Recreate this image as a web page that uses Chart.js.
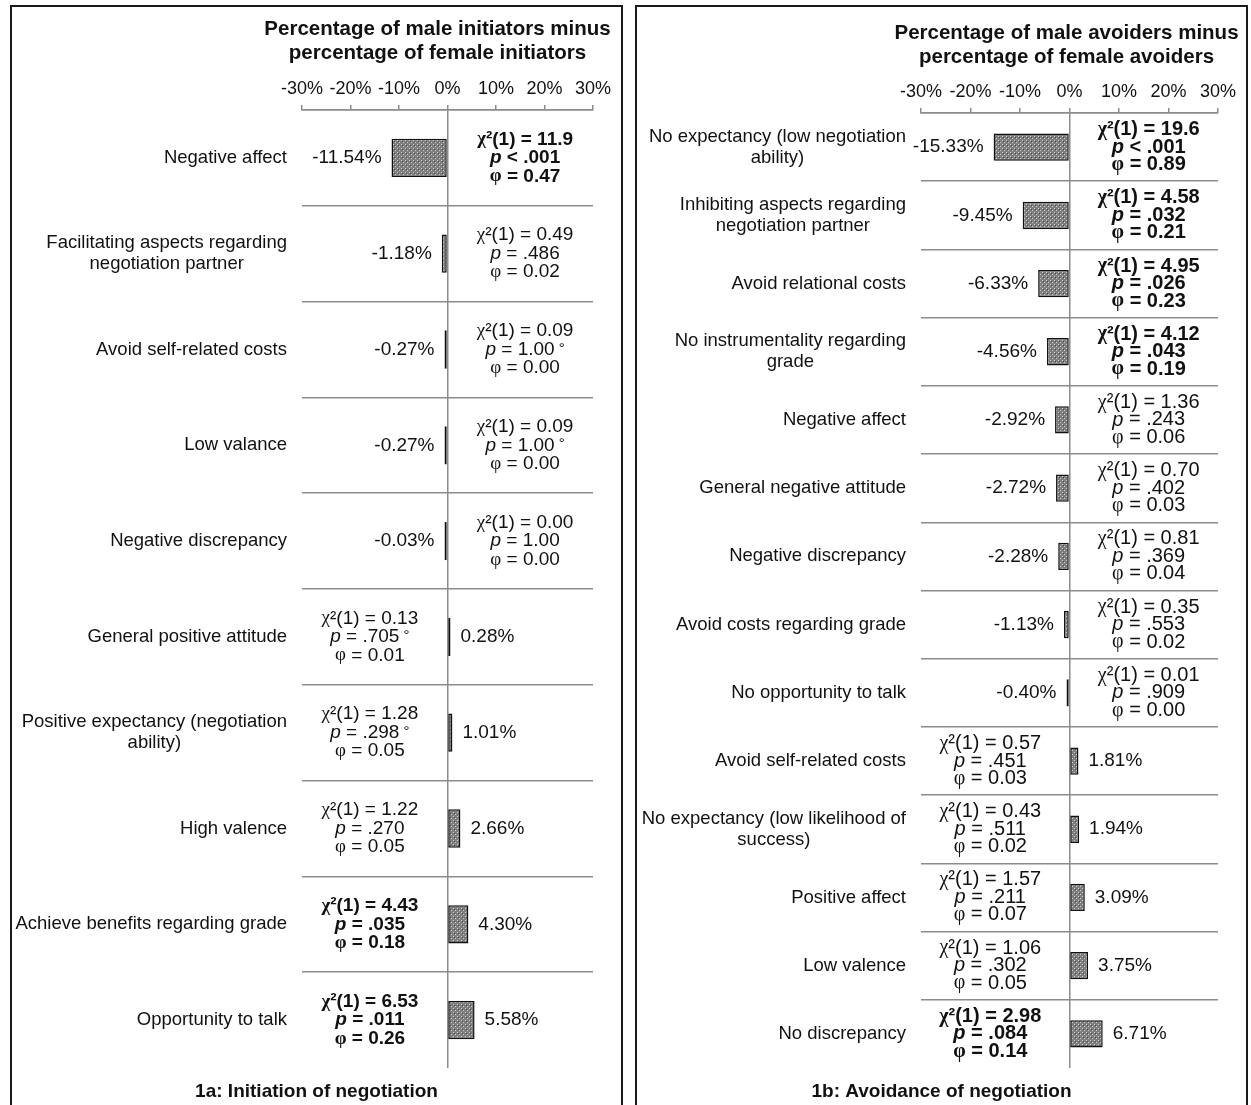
<!DOCTYPE html>
<html>
<head>
<meta charset="utf-8">
<script src="https://cdn.jsdelivr.net/npm/chart.js@4.4.0/dist/chart.umd.min.js"></script>
<style>
  body { margin: 0; background: #fff; }
  .panel { position: absolute; top: 5px; width: 609px; height: 1110px; border: 2px solid #1a1a1a; }
  #panelA { left: 10px; }
  #panelB { left: 635px; }
  canvas { display: block; }
</style>
</head>
<body>
<div class="panel" id="panelA"><canvas id="chartA" width="609" height="1098"></canvas></div>
<div class="panel" id="panelB"><canvas id="chartB" width="609" height="1098"></canvas></div>
<script>
const FONT = "'Liberation Sans', Arial, sans-serif";
const SERIF = "'Liberation Serif', 'Times New Roman', serif";

// 1a: initiation of negotiation
const categoriesA = [
    "Negative affect",
    ["Facilitating aspects regarding", "negotiation partner"],
    "Avoid self-related costs",
    "Low valance",
    "Negative discrepancy",
    "General positive attitude",
    ["Positive expectancy (negotiation", "ability)"],
    "High valence",
    "Achieve benefits regarding grade",
    "Opportunity to talk",
];
const valuesA = [-11.54, -1.18, -0.27, -0.27, -0.03, 0.28, 1.01, 2.66, 4.30, 5.58];
const chiA = ["11.9", "0.49", "0.09", "0.09", "0.00", "0.13", "1.28", "1.22", "4.43", "6.53"];
const pA = ["< .001", "= .486", "= 1.00", "= 1.00", "= 1.00", "= .705", "= .298", "= .270", "= .035", "= .011"];
const phiA = ["0.47", "0.02", "0.00", "0.00", "0.00", "0.01", "0.05", "0.05", "0.18", "0.26"];
const boldA = [true, false, false, false, false, false, false, false, true, true];
const degreeA = [false, false, true, true, false, true, true, false, false, false];

// 1b: avoidance of negotiation
const categoriesB = [
    ["No expectancy (low negotiation", "ability)"],
    ["Inhibiting aspects regarding", "negotiation partner"],
    "Avoid relational costs",
    ["No instrumentality regarding", "grade"],
    "Negative affect",
    "General negative attitude",
    "Negative discrepancy",
    "Avoid costs regarding grade",
    "No opportunity to talk",
    "Avoid self-related costs",
    ["No expectancy (low likelihood of", "success)"],
    "Positive affect",
    "Low valence",
    "No discrepancy",
];
const valuesB = [-15.33, -9.45, -6.33, -4.56, -2.92, -2.72, -2.28, -1.13, -0.40, 1.81, 1.94, 3.09, 3.75, 6.71];
const chiB = ["19.6", "4.58", "4.95", "4.12", "1.36", "0.70", "0.81", "0.35", "0.01", "0.57", "0.43", "1.57", "1.06", "2.98"];
const pB = ["< .001", "= .032", "= .026", "= .043", "= .243", "= .402", "= .369", "= .553", "= .909", "= .451", "= .511", "= .211", "= .302", "= .084"];
const phiB = ["0.89", "0.21", "0.23", "0.19", "0.06", "0.03", "0.04", "0.02", "0.00", "0.03", "0.02", "0.07", "0.05", "0.14"];
const boldB = [true, true, true, true, false, false, false, false, false, false, false, false, false, true];
const degreeB = [false, false, false, false, false, false, false, false, false, false, false, false, false, false];

const tickValues = [-30, -20, -10, 0, 10, 20, 30];

// dotted grey fill like the excel pattern
function makePattern() {
    const c = document.createElement("canvas");
    c.width = 4;
    c.height = 4;
    const g = c.getContext("2d");
    g.fillStyle = "#7e7e7e";
    g.fillRect(0, 0, 4, 4);
    g.fillStyle = "#cfcfcf";
    g.fillRect(1, 1, 1, 1);
    g.fillRect(3, 3, 1, 1);
    g.fillStyle = "#484848";
    g.fillRect(2, 2, 1, 1);
    return g.createPattern(c, "repeat");
}

function drawParts(ctx, parts, cx, cy) {
    let w = 0;
    parts.forEach((p) => {
        ctx.font = p.font;
        w += ctx.measureText(p.text).width;
    });
    let x = cx - w / 2;
    parts.forEach((p) => {
        ctx.font = p.font;
        ctx.fillText(p.text, x, cy + (p.dy || 0));
        x += ctx.measureText(p.text).width;
    });
}

function annotations(d) {
    return {
        id: "annotations",
        afterDatasetsDraw(chart) {
            const ctx = chart.ctx;
            const area = chart.chartArea;
            const xs = chart.scales.x;
            const bars = chart.getDatasetMeta(0).data;
            ctx.save();
            ctx.fillStyle = "#111";
            ctx.textBaseline = "middle";

            // axis title (drawn here so it is not squeezed to the axis width)
            ctx.font = "bold 20.5px " + FONT;
            ctx.textAlign = "center";
            const tx = (area.left + area.right) / 2 + d.titleShift;
            d.axisTitle.forEach((t, k) => ctx.fillText(t, tx, d.titleY[k]));

            // panel caption
            ctx.font = "bold 19px " + FONT;
            ctx.fillText(d.panelTitle, chart.width / 2, d.captionY);

            bars.forEach((bar, i) => {
                const y = bar.y;
                const v = d.values[i];

                // category label, lines centred, block right-aligned
                const lines = Array.isArray(d.categories[i]) ? d.categories[i] : [d.categories[i]];
                ctx.font = "18.5px " + FONT;
                const bw = Math.max(...lines.map((l) => ctx.measureText(l).width));
                ctx.textAlign = "center";
                lines.forEach((l, k) => {
                    ctx.fillText(l, area.left - 15 - bw / 2, y + (k - (lines.length - 1) / 2) * 21);
                });

                // value label
                ctx.font = "19px " + FONT;
                const txt = v.toFixed(2) + "%";
                if (v < 0) {
                    ctx.textAlign = "right";
                    ctx.fillText(txt, Math.min(bar.x, bar.base) - 10, y);
                } else {
                    ctx.textAlign = "left";
                    ctx.fillText(txt, Math.max(bar.x, bar.base) + 10, y);
                }

                // test statistics on the other side of zero
                ctx.textAlign = "left";
                const sx = xs.getPixelForValue(v < 0 ? 16 : -16);
                const s = d.statSize;
                const wt = d.bold[i] ? "bold " : "";
                const sans = wt + s + "px " + FONT;
                const serif = wt + s + "px " + SERIF;
                const line1 = [
                    { text: "\u03c7", font: serif },
                    { text: "\u00b2(1) = " + d.chi[i], font: sans },
                ];
                const line2 = [
                    { text: "p", font: "italic " + sans },
                    { text: " " + d.p[i], font: sans },
                ];
                if (d.degree[i]) {
                    line2.push({ text: " \u00b0", font: Math.round(s * 0.8) + "px " + FONT, dy: -1 });
                }
                const line3 = [
                    { text: "\u03c6", font: serif },
                    { text: " = " + d.phi[i], font: sans },
                ];
                drawParts(ctx, line1, sx, y - d.statGap);
                drawParts(ctx, line2, sx, y);
                drawParts(ctx, line3, sx, y + d.statGap);
            });
            ctx.restore();
        },
    };
}

function makeChart(id, d) {
    const ctx = document.getElementById(id).getContext("2d");
    return new Chart(ctx, {
        type: "bar",
        data: {
            labels: d.categories,
            datasets: [
                {
                    data: d.values,
                    backgroundColor: makePattern(),
                    borderColor: "#111",
                    borderWidth: 1.5,
                    borderSkipped: false,
                    barPercentage: 0.4,
                    categoryPercentage: 1,
                    minBarLength: 3,
                },
            ],
        },
        options: {
            indexAxis: "y",
            responsive: false,
            animation: false,
            layout: { padding: { left: 0, right: 28, top: 0, bottom: 37 } },
            scales: {
                x: {
                    type: "linear",
                    position: "top",
                    min: tickValues[0],
                    max: tickValues[tickValues.length - 1],
                    afterBuildTicks: (scale) => {
                        scale.ticks = tickValues.map((v) => ({ value: v }));
                    },
                    afterFit: (scale) => {
                        scale.height = d.axisTop;
                    },
                    ticks: {
                        callback: (v) => v + "%",
                        color: "#111",
                        font: { family: FONT, size: 18 },
                        padding: d.tickPad,
                        maxRotation: 0,
                    },
                    grid: {
                        color: (c) => (c.tick && c.tick.value === 0 ? "#8c8c8c" : "transparent"),
                        tickColor: "#8c8c8c",
                        tickLength: 5,
                        lineWidth: 1.5,
                    },
                    border: { color: "#8c8c8c", width: 1.5 },
                },
                y: {
                    afterFit: (scale) => {
                        scale.width = d.axisLeft;
                    },
                    ticks: { display: false },
                    grid: {
                        color: (c) => (c.index === undefined ? "transparent" : "#8c8c8c"),
                        lineWidth: 1.5,
                        drawTicks: false,
                    },
                    border: { display: false },
                },
            },
            plugins: {
                legend: { display: false },
                tooltip: { enabled: false },
            },
        },
        plugins: [annotations(d)],
    });
}

makeChart("chartA", {
    categories: categoriesA,
    values: valuesA,
    chi: chiA,
    p: pA,
    phi: phiA,
    bold: boldA,
    degree: degreeA,
    axisTitle: ["Percentage of male initiators minus", "percentage of female initiators"],
    panelTitle: "1a: Initiation of negotiation",
    axisTop: 103,
    axisLeft: 290,
    titleY: [22, 46],
    titleShift: -10,
    captionY: 1085,
    tickPad: 5,
    statSize: 19,
    statGap: 18.5,
});

makeChart("chartB", {
    categories: categoriesB,
    values: valuesB,
    chi: chiB,
    p: pB,
    phi: phiB,
    bold: boldB,
    degree: degreeB,
    axisTitle: ["Percentage of male avoiders minus", "percentage of female avoiders"],
    panelTitle: "1b: Avoidance of negotiation",
    axisTop: 106,
    axisLeft: 284,
    titleY: [26, 50],
    titleShift: -3,
    captionY: 1085,
    tickPad: 5,
    statSize: 20,
    statGap: 17.5,
});
</script>
</body>
</html>
